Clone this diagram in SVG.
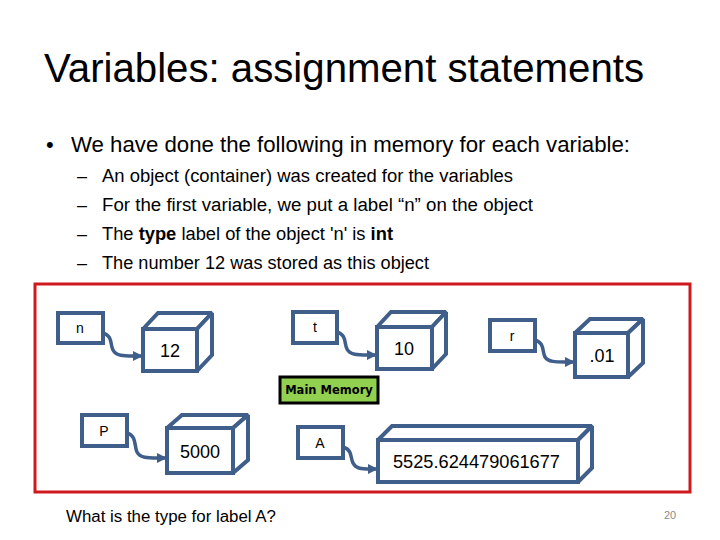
<svg xmlns="http://www.w3.org/2000/svg" width="720" height="540" viewBox="0 0 720 540">
<style>
text{font-family:"Liberation Sans",Arial,sans-serif;fill:#000}
.lbl{fill:#fff;stroke:#3f5e8a;stroke-width:4}
.cube{fill:#fff;stroke:#3f5e8a;stroke-width:4;stroke-linejoin:miter;stroke-miterlimit:1.5}
.conn{fill:none;stroke:#3f5e8a;stroke-width:3.5;marker-end:url(#arr)}
.lt{font-size:14px;text-anchor:middle}
.val{font-size:18px;text-anchor:middle}
</style>
<defs>
<marker id="arr" markerUnits="userSpaceOnUse" markerWidth="12" markerHeight="12" refX="10" refY="6" orient="auto">
<polygon points="0,1 10,6 0,11" fill="#3f5e8a"/>
</marker>
</defs>
<rect width="720" height="540" fill="#fff"/>
<text x="44" y="82" font-size="40" textLength="600" lengthAdjust="spacingAndGlyphs">Variables: assignment statements</text>
<text x="46" y="152" font-size="22">•</text>
<text x="71" y="152" font-size="22" textLength="559" lengthAdjust="spacingAndGlyphs">We have done the following in memory for each variable:</text>
<g font-size="18">
<text x="77" y="182">–</text><text x="102" y="182" textLength="411" lengthAdjust="spacingAndGlyphs">An object (container) was created for the variables</text>
<text x="77" y="211">–</text><text x="102" y="211" textLength="431" lengthAdjust="spacingAndGlyphs">For the first variable, we put a label “n” on the object</text>
<text x="77" y="240">–</text><text x="102" y="240" textLength="291" lengthAdjust="spacingAndGlyphs">The <tspan font-weight="bold">type</tspan> label of the object 'n' is <tspan font-weight="bold">int</tspan></text>
<text x="77" y="269">–</text><text x="102" y="269" textLength="327" lengthAdjust="spacingAndGlyphs">The number 12 was stored as this object</text>
</g>
<rect x="35" y="284" width="655" height="208" fill="none" stroke="#d0181f" stroke-width="3"/>
<g id="connectors">
<path class="conn" d="M103,333 C113,336 110,345 113,350 C116,356 124,356 133,356 L143,356"/>
<path class="conn" d="M337,332 C347,335 344,344 347,349 C350,355 358,355 367,355 L377,355"/>
<path class="conn" d="M535,340 C545,343 542,352 545,357 C548,362 556,362 565,362 L575,362"/>
<path class="conn" d="M127,433 C137,436 134,446 137,452 C140,458 148,458 157,458 L167,458"/>
<path class="conn" d="M343,447 C353,450 350,458 353,463 C356,469 362,469 370,469 L378,469"/>
</g>
<g id="label-n"><rect class="lbl" x="58" y="313" width="45" height="30"/><text class="lt" x="80" y="333">n</text></g>
<g id="cube-12">
<polygon class="cube" points="143,329 158,313 212,313 197,329"/>
<polygon class="cube" points="197,329 212,313 212,355 197,371"/>
<rect class="cube" x="143" y="329" width="54" height="42"/>
<text class="val" x="170" y="357">12</text></g>
<g id="label-t"><rect class="lbl" x="293" y="312" width="44" height="31"/><text class="lt" x="315" y="332">t</text></g>
<g id="cube-10">
<polygon class="cube" points="377,327 391,312 446,312 432,327"/>
<polygon class="cube" points="432,327 446,312 446,354 432,369"/>
<rect class="cube" x="377" y="327" width="55" height="42"/>
<text class="val" x="404" y="355">10</text></g>
<g id="label-r"><rect class="lbl" x="490" y="320" width="45" height="31"/><text class="lt" x="512" y="341">r</text></g>
<g id="cube-01">
<polygon class="cube" points="575,333 590,319 643,319 628,333"/>
<polygon class="cube" points="628,333 643,319 643,363 628,377"/>
<rect class="cube" x="575" y="333" width="53" height="44"/>
<text class="val" x="602" y="362">.01</text></g>
<g id="main-memory"><rect x="280" y="377" width="98" height="26" fill="#92d050" stroke="#000" stroke-width="3"/><text x="329" y="394" font-size="11.5" font-weight="bold" text-anchor="middle" style="font-family:'DejaVu Sans',sans-serif">Main Memory</text></g>
<g id="label-P"><rect class="lbl" x="82" y="415" width="45" height="31"/><text class="lt" x="104" y="436">P</text></g>
<g id="cube-5000">
<polygon class="cube" points="167,428 182,415 248,415 233,428"/>
<polygon class="cube" points="233,428 248,415 248,460 233,473"/>
<rect class="cube" x="167" y="428" width="66" height="45"/>
<text class="val" x="200" y="458">5000</text></g>
<g id="label-A"><rect class="lbl" x="298" y="427" width="45" height="31"/><text class="lt" x="320" y="448">A</text></g>
<g id="cube-5525">
<polygon class="cube" points="378,440 392,426 592,426 578,440"/>
<polygon class="cube" points="578,440 592,426 592,468 578,482"/>
<rect class="cube" x="378" y="440" width="200" height="42"/>
<text x="393" y="468" font-size="18" textLength="167" lengthAdjust="spacingAndGlyphs">5525.624479061677</text></g>
<text x="66" y="522" font-size="16" textLength="210" lengthAdjust="spacingAndGlyphs">What is the type for label A?</text>
<text x="664" y="519" font-size="11" style="fill:#8a8a8a">20</text>
</svg>
